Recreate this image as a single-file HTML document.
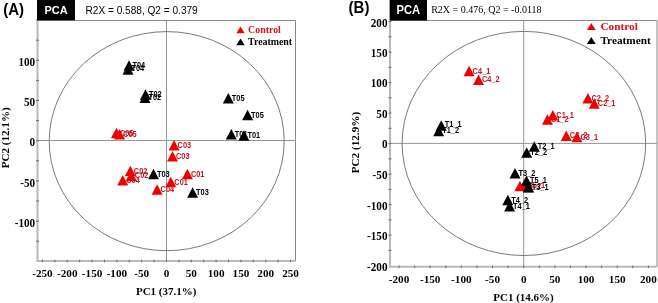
<!DOCTYPE html><html><head><meta charset="utf-8"><style>html,body{margin:0;padding:0;background:#fff;width:658px;height:303px;overflow:hidden}svg{display:block;will-change:transform;filter:blur(0.35px)}</style></head><body>
<svg width="658" height="303" viewBox="0 0 658 303">
<g opacity="0.999">
<path d="M37.5 20.5H295.5V261.0" fill="none" stroke="#8a8a8a" stroke-width="1"/>
<path d="M37.5 20.5V261.0H295.5" fill="none" stroke="#b9b9b9" stroke-width="2"/>
<line x1="37.5" y1="140.5" x2="295.5" y2="140.5" stroke="#959595" stroke-width="1"/>
<line x1="166.5" y1="20.5" x2="166.5" y2="261.0" stroke="#959595" stroke-width="1"/>
<ellipse cx="166.7" cy="141.15" rx="117.5" ry="109.55" fill="none" stroke="#6a6a6a" stroke-width="0.9"/>
<line x1="42.45" y1="259.7" x2="42.45" y2="262.3" stroke="#6a6a6a" stroke-width="1"/>
<text transform="translate(42.45 277.40)" text-anchor="middle" font-family='"Liberation Serif", serif' font-weight="bold" font-size="11.2">-250</text>
<line x1="54.86" y1="259.7" x2="54.86" y2="262.3" stroke="#6a6a6a" stroke-width="1"/>
<line x1="67.26" y1="259.7" x2="67.26" y2="262.3" stroke="#6a6a6a" stroke-width="1"/>
<text transform="translate(67.26 277.40)" text-anchor="middle" font-family='"Liberation Serif", serif' font-weight="bold" font-size="11.2">-200</text>
<line x1="79.67" y1="259.7" x2="79.67" y2="262.3" stroke="#6a6a6a" stroke-width="1"/>
<line x1="92.07" y1="259.7" x2="92.07" y2="262.3" stroke="#6a6a6a" stroke-width="1"/>
<text transform="translate(92.07 277.40)" text-anchor="middle" font-family='"Liberation Serif", serif' font-weight="bold" font-size="11.2">-150</text>
<line x1="104.47" y1="259.7" x2="104.47" y2="262.3" stroke="#6a6a6a" stroke-width="1"/>
<line x1="116.88" y1="259.7" x2="116.88" y2="262.3" stroke="#6a6a6a" stroke-width="1"/>
<text transform="translate(116.88 277.40)" text-anchor="middle" font-family='"Liberation Serif", serif' font-weight="bold" font-size="11.2">-100</text>
<line x1="129.28" y1="259.7" x2="129.28" y2="262.3" stroke="#6a6a6a" stroke-width="1"/>
<line x1="141.69" y1="259.7" x2="141.69" y2="262.3" stroke="#6a6a6a" stroke-width="1"/>
<text transform="translate(141.69 277.40)" text-anchor="middle" font-family='"Liberation Serif", serif' font-weight="bold" font-size="11.2">-50</text>
<line x1="154.09" y1="259.7" x2="154.09" y2="262.3" stroke="#6a6a6a" stroke-width="1"/>
<line x1="166.50" y1="259.7" x2="166.50" y2="262.3" stroke="#6a6a6a" stroke-width="1"/>
<text transform="translate(166.50 277.40)" text-anchor="middle" font-family='"Liberation Serif", serif' font-weight="bold" font-size="11.2">0</text>
<line x1="178.91" y1="259.7" x2="178.91" y2="262.3" stroke="#6a6a6a" stroke-width="1"/>
<line x1="191.31" y1="259.7" x2="191.31" y2="262.3" stroke="#6a6a6a" stroke-width="1"/>
<text transform="translate(191.31 277.40)" text-anchor="middle" font-family='"Liberation Serif", serif' font-weight="bold" font-size="11.2">50</text>
<line x1="203.72" y1="259.7" x2="203.72" y2="262.3" stroke="#6a6a6a" stroke-width="1"/>
<line x1="216.12" y1="259.7" x2="216.12" y2="262.3" stroke="#6a6a6a" stroke-width="1"/>
<text transform="translate(216.12 277.40)" text-anchor="middle" font-family='"Liberation Serif", serif' font-weight="bold" font-size="11.2">100</text>
<line x1="228.53" y1="259.7" x2="228.53" y2="262.3" stroke="#6a6a6a" stroke-width="1"/>
<line x1="240.93" y1="259.7" x2="240.93" y2="262.3" stroke="#6a6a6a" stroke-width="1"/>
<text transform="translate(240.93 277.40)" text-anchor="middle" font-family='"Liberation Serif", serif' font-weight="bold" font-size="11.2">150</text>
<line x1="253.33" y1="259.7" x2="253.33" y2="262.3" stroke="#6a6a6a" stroke-width="1"/>
<line x1="265.74" y1="259.7" x2="265.74" y2="262.3" stroke="#6a6a6a" stroke-width="1"/>
<text transform="translate(265.74 277.40)" text-anchor="middle" font-family='"Liberation Serif", serif' font-weight="bold" font-size="11.2">200</text>
<line x1="278.14" y1="259.7" x2="278.14" y2="262.3" stroke="#6a6a6a" stroke-width="1"/>
<line x1="290.55" y1="259.7" x2="290.55" y2="262.3" stroke="#6a6a6a" stroke-width="1"/>
<text transform="translate(290.55 277.40)" text-anchor="middle" font-family='"Liberation Serif", serif' font-weight="bold" font-size="11.2">250</text>
<line x1="36.0" y1="241.20" x2="39.0" y2="241.20" stroke="#6a6a6a" stroke-width="1"/>
<line x1="36.0" y1="221.10" x2="39.0" y2="221.10" stroke="#6a6a6a" stroke-width="1"/>
<text transform="translate(35.20 226.70) scale(1 1.07)" text-anchor="end" font-family='"Liberation Serif", serif' font-weight="bold" font-size="11.2">-100</text>
<line x1="36.0" y1="201.00" x2="39.0" y2="201.00" stroke="#6a6a6a" stroke-width="1"/>
<line x1="36.0" y1="180.90" x2="39.0" y2="180.90" stroke="#6a6a6a" stroke-width="1"/>
<text transform="translate(35.20 186.50) scale(1 1.07)" text-anchor="end" font-family='"Liberation Serif", serif' font-weight="bold" font-size="11.2">-50</text>
<line x1="36.0" y1="160.80" x2="39.0" y2="160.80" stroke="#6a6a6a" stroke-width="1"/>
<line x1="36.0" y1="140.70" x2="39.0" y2="140.70" stroke="#6a6a6a" stroke-width="1"/>
<text transform="translate(35.20 146.30) scale(1 1.07)" text-anchor="end" font-family='"Liberation Serif", serif' font-weight="bold" font-size="11.2">0</text>
<line x1="36.0" y1="120.60" x2="39.0" y2="120.60" stroke="#6a6a6a" stroke-width="1"/>
<line x1="36.0" y1="100.50" x2="39.0" y2="100.50" stroke="#6a6a6a" stroke-width="1"/>
<text transform="translate(35.20 106.10) scale(1 1.07)" text-anchor="end" font-family='"Liberation Serif", serif' font-weight="bold" font-size="11.2">50</text>
<line x1="36.0" y1="80.40" x2="39.0" y2="80.40" stroke="#6a6a6a" stroke-width="1"/>
<line x1="36.0" y1="60.30" x2="39.0" y2="60.30" stroke="#6a6a6a" stroke-width="1"/>
<text transform="translate(35.20 65.90) scale(1 1.07)" text-anchor="end" font-family='"Liberation Serif", serif' font-weight="bold" font-size="11.2">100</text>
<line x1="36.0" y1="40.20" x2="39.0" y2="40.20" stroke="#6a6a6a" stroke-width="1"/>
<line x1="36.0" y1="20.10" x2="39.0" y2="20.10" stroke="#6a6a6a" stroke-width="1"/>
<path d="M390.0 20.5H657.0V266.8" fill="none" stroke="#8a8a8a" stroke-width="1"/>
<path d="M390.0 20.5V266.8H657.0" fill="none" stroke="#b9b9b9" stroke-width="2"/>
<line x1="390.0" y1="143.4" x2="657.0" y2="143.4" stroke="#959595" stroke-width="1"/>
<line x1="523.7" y1="20.5" x2="523.7" y2="266.8" stroke="#959595" stroke-width="1"/>
<ellipse cx="523.9" cy="143.45" rx="121.8" ry="112.05" fill="none" stroke="#6a6a6a" stroke-width="0.9"/>
<line x1="399.04" y1="265.5" x2="399.04" y2="268.1" stroke="#6a6a6a" stroke-width="1"/>
<text transform="translate(399.04 283.00)" text-anchor="middle" font-family='"Liberation Serif", serif' font-weight="bold" font-size="11.2">-200</text>
<line x1="414.62" y1="265.5" x2="414.62" y2="268.1" stroke="#6a6a6a" stroke-width="1"/>
<line x1="430.21" y1="265.5" x2="430.21" y2="268.1" stroke="#6a6a6a" stroke-width="1"/>
<text transform="translate(430.21 283.00)" text-anchor="middle" font-family='"Liberation Serif", serif' font-weight="bold" font-size="11.2">-150</text>
<line x1="445.79" y1="265.5" x2="445.79" y2="268.1" stroke="#6a6a6a" stroke-width="1"/>
<line x1="461.37" y1="265.5" x2="461.37" y2="268.1" stroke="#6a6a6a" stroke-width="1"/>
<text transform="translate(461.37 283.00)" text-anchor="middle" font-family='"Liberation Serif", serif' font-weight="bold" font-size="11.2">-100</text>
<line x1="476.95" y1="265.5" x2="476.95" y2="268.1" stroke="#6a6a6a" stroke-width="1"/>
<line x1="492.54" y1="265.5" x2="492.54" y2="268.1" stroke="#6a6a6a" stroke-width="1"/>
<text transform="translate(492.54 283.00)" text-anchor="middle" font-family='"Liberation Serif", serif' font-weight="bold" font-size="11.2">-50</text>
<line x1="508.12" y1="265.5" x2="508.12" y2="268.1" stroke="#6a6a6a" stroke-width="1"/>
<line x1="523.70" y1="265.5" x2="523.70" y2="268.1" stroke="#6a6a6a" stroke-width="1"/>
<text transform="translate(523.70 283.00)" text-anchor="middle" font-family='"Liberation Serif", serif' font-weight="bold" font-size="11.2">0</text>
<line x1="539.28" y1="265.5" x2="539.28" y2="268.1" stroke="#6a6a6a" stroke-width="1"/>
<line x1="554.87" y1="265.5" x2="554.87" y2="268.1" stroke="#6a6a6a" stroke-width="1"/>
<text transform="translate(554.87 283.00)" text-anchor="middle" font-family='"Liberation Serif", serif' font-weight="bold" font-size="11.2">50</text>
<line x1="570.45" y1="265.5" x2="570.45" y2="268.1" stroke="#6a6a6a" stroke-width="1"/>
<line x1="586.03" y1="265.5" x2="586.03" y2="268.1" stroke="#6a6a6a" stroke-width="1"/>
<text transform="translate(586.03 283.00)" text-anchor="middle" font-family='"Liberation Serif", serif' font-weight="bold" font-size="11.2">100</text>
<line x1="601.61" y1="265.5" x2="601.61" y2="268.1" stroke="#6a6a6a" stroke-width="1"/>
<line x1="617.20" y1="265.5" x2="617.20" y2="268.1" stroke="#6a6a6a" stroke-width="1"/>
<text transform="translate(617.20 283.00)" text-anchor="middle" font-family='"Liberation Serif", serif' font-weight="bold" font-size="11.2">150</text>
<line x1="632.78" y1="265.5" x2="632.78" y2="268.1" stroke="#6a6a6a" stroke-width="1"/>
<line x1="648.36" y1="265.5" x2="648.36" y2="268.1" stroke="#6a6a6a" stroke-width="1"/>
<text transform="translate(648.36 283.00)" text-anchor="middle" font-family='"Liberation Serif", serif' font-weight="bold" font-size="11.2">200</text>
<text transform="translate(387.50 270.57) scale(1 1.07)" text-anchor="end" font-family='"Liberation Serif", serif' font-weight="bold" font-size="11.2">-200</text>
<line x1="388.5" y1="250.41" x2="391.5" y2="250.41" stroke="#6a6a6a" stroke-width="1"/>
<line x1="388.5" y1="235.15" x2="391.5" y2="235.15" stroke="#6a6a6a" stroke-width="1"/>
<text transform="translate(387.50 240.05) scale(1 1.07)" text-anchor="end" font-family='"Liberation Serif", serif' font-weight="bold" font-size="11.2">-150</text>
<line x1="388.5" y1="219.89" x2="391.5" y2="219.89" stroke="#6a6a6a" stroke-width="1"/>
<line x1="388.5" y1="204.63" x2="391.5" y2="204.63" stroke="#6a6a6a" stroke-width="1"/>
<text transform="translate(387.50 209.53) scale(1 1.07)" text-anchor="end" font-family='"Liberation Serif", serif' font-weight="bold" font-size="11.2">-100</text>
<line x1="388.5" y1="189.37" x2="391.5" y2="189.37" stroke="#6a6a6a" stroke-width="1"/>
<line x1="388.5" y1="174.11" x2="391.5" y2="174.11" stroke="#6a6a6a" stroke-width="1"/>
<text transform="translate(387.50 179.01) scale(1 1.07)" text-anchor="end" font-family='"Liberation Serif", serif' font-weight="bold" font-size="11.2">-50</text>
<line x1="388.5" y1="158.85" x2="391.5" y2="158.85" stroke="#6a6a6a" stroke-width="1"/>
<line x1="388.5" y1="143.59" x2="391.5" y2="143.59" stroke="#6a6a6a" stroke-width="1"/>
<text transform="translate(387.50 148.49) scale(1 1.07)" text-anchor="end" font-family='"Liberation Serif", serif' font-weight="bold" font-size="11.2">0</text>
<line x1="388.5" y1="128.33" x2="391.5" y2="128.33" stroke="#6a6a6a" stroke-width="1"/>
<line x1="388.5" y1="113.07" x2="391.5" y2="113.07" stroke="#6a6a6a" stroke-width="1"/>
<text transform="translate(387.50 117.97) scale(1 1.07)" text-anchor="end" font-family='"Liberation Serif", serif' font-weight="bold" font-size="11.2">50</text>
<line x1="388.5" y1="97.81" x2="391.5" y2="97.81" stroke="#6a6a6a" stroke-width="1"/>
<line x1="388.5" y1="82.55" x2="391.5" y2="82.55" stroke="#6a6a6a" stroke-width="1"/>
<text transform="translate(387.50 87.45) scale(1 1.07)" text-anchor="end" font-family='"Liberation Serif", serif' font-weight="bold" font-size="11.2">100</text>
<line x1="388.5" y1="67.29" x2="391.5" y2="67.29" stroke="#6a6a6a" stroke-width="1"/>
<line x1="388.5" y1="52.03" x2="391.5" y2="52.03" stroke="#6a6a6a" stroke-width="1"/>
<text transform="translate(387.50 56.93) scale(1 1.07)" text-anchor="end" font-family='"Liberation Serif", serif' font-weight="bold" font-size="11.2">150</text>
<line x1="388.5" y1="36.77" x2="391.5" y2="36.77" stroke="#6a6a6a" stroke-width="1"/>
<line x1="388.5" y1="21.51" x2="391.5" y2="21.51" stroke="#6a6a6a" stroke-width="1"/>
<text transform="translate(387.50 27.21) scale(1 1.07)" text-anchor="end" font-family='"Liberation Serif", serif' font-weight="bold" font-size="11.2">200</text>
<path d="M129.00 60.35L134.50 70.85L123.50 70.85Z" fill="#000"/>
<text transform="translate(132.50 67.50) scale(0.88 1)" fill="#000" font-family='"Liberation Sans", sans-serif' font-weight="bold" font-size="8.4">T04</text>
<path d="M128.00 64.25L133.50 74.75L122.50 74.75Z" fill="#000"/>
<text transform="translate(131.50 70.80) scale(0.88 1)" fill="#000" font-family='"Liberation Sans", sans-serif' font-weight="bold" font-size="8.4">T04</text>
<path d="M145.50 89.25L151.00 99.75L140.00 99.75Z" fill="#000"/>
<text transform="translate(149.00 97.10) scale(0.88 1)" fill="#000" font-family='"Liberation Sans", sans-serif' font-weight="bold" font-size="8.4">T02</text>
<path d="M145.00 92.55L150.50 103.05L139.50 103.05Z" fill="#000"/>
<text transform="translate(148.50 100.40) scale(0.88 1)" fill="#000" font-family='"Liberation Sans", sans-serif' font-weight="bold" font-size="8.4">T02</text>
<path d="M228.30 92.95L233.80 103.45L222.80 103.45Z" fill="#000"/>
<text transform="translate(231.80 100.80) scale(0.88 1)" fill="#000" font-family='"Liberation Sans", sans-serif' font-weight="bold" font-size="8.4">T05</text>
<path d="M247.60 109.65L253.10 120.15L242.10 120.15Z" fill="#000"/>
<text transform="translate(251.10 117.50) scale(0.88 1)" fill="#000" font-family='"Liberation Sans", sans-serif' font-weight="bold" font-size="8.4">T05</text>
<path d="M231.30 128.95L236.80 139.45L225.80 139.45Z" fill="#000"/>
<text transform="translate(234.80 136.80) scale(0.88 1)" fill="#000" font-family='"Liberation Sans", sans-serif' font-weight="bold" font-size="8.4">T01</text>
<path d="M243.90 130.25L249.40 140.75L238.40 140.75Z" fill="#000"/>
<text transform="translate(247.40 138.10) scale(0.88 1)" fill="#000" font-family='"Liberation Sans", sans-serif' font-weight="bold" font-size="8.4">T01</text>
<path d="M153.50 168.85L159.00 179.35L148.00 179.35Z" fill="#000"/>
<text transform="translate(157.00 176.70) scale(0.88 1)" fill="#000" font-family='"Liberation Sans", sans-serif' font-weight="bold" font-size="8.4">T03</text>
<path d="M192.60 187.15L198.10 197.65L187.10 197.65Z" fill="#000"/>
<text transform="translate(196.10 195.00) scale(0.88 1)" fill="#000" font-family='"Liberation Sans", sans-serif' font-weight="bold" font-size="8.4">T03</text>
<path d="M116.40 127.65L121.90 138.15L110.90 138.15Z" fill="#f00000"/>
<text transform="translate(119.90 135.50) scale(0.88 1)" fill="#c81420" font-family='"Liberation Sans", sans-serif' font-weight="bold" font-size="8.4">C05</text>
<path d="M119.60 128.95L125.10 139.45L114.10 139.45Z" fill="#f00000"/>
<text transform="translate(123.10 136.80) scale(0.88 1)" fill="#c81420" font-family='"Liberation Sans", sans-serif' font-weight="bold" font-size="8.4">C05</text>
<path d="M174.10 139.95L179.60 150.45L168.60 150.45Z" fill="#f00000"/>
<text transform="translate(177.60 147.80) scale(0.88 1)" fill="#c81420" font-family='"Liberation Sans", sans-serif' font-weight="bold" font-size="8.4">C03</text>
<path d="M172.50 151.05L178.00 161.55L167.00 161.55Z" fill="#f00000"/>
<text transform="translate(176.00 158.90) scale(0.88 1)" fill="#c81420" font-family='"Liberation Sans", sans-serif' font-weight="bold" font-size="8.4">C03</text>
<path d="M122.70 174.95L128.20 185.45L117.20 185.45Z" fill="#f00000"/>
<text transform="translate(126.20 182.80) scale(0.88 1)" fill="#c81420" font-family='"Liberation Sans", sans-serif' font-weight="bold" font-size="8.4">C04</text>
<path d="M130.30 165.75L135.80 176.25L124.80 176.25Z" fill="#f00000"/>
<text transform="translate(133.80 173.60) scale(0.88 1)" fill="#c81420" font-family='"Liberation Sans", sans-serif' font-weight="bold" font-size="8.4">C02</text>
<path d="M131.30 170.65L136.80 181.15L125.80 181.15Z" fill="#f00000"/>
<text transform="translate(134.80 178.10) scale(0.88 1)" fill="#c81420" font-family='"Liberation Sans", sans-serif' font-weight="bold" font-size="8.4">C02</text>
<path d="M187.40 168.75L192.90 179.25L181.90 179.25Z" fill="#f00000"/>
<text transform="translate(190.90 176.60) scale(0.88 1)" fill="#c81420" font-family='"Liberation Sans", sans-serif' font-weight="bold" font-size="8.4">C01</text>
<path d="M170.80 176.85L176.30 187.35L165.30 187.35Z" fill="#f00000"/>
<text transform="translate(174.30 184.70) scale(0.88 1)" fill="#c81420" font-family='"Liberation Sans", sans-serif' font-weight="bold" font-size="8.4">C01</text>
<path d="M157.10 184.25L162.60 194.75L151.60 194.75Z" fill="#f00000"/>
<text transform="translate(160.60 192.10) scale(0.88 1)" fill="#c81420" font-family='"Liberation Sans", sans-serif' font-weight="bold" font-size="8.4">C04</text>
<path d="M469.10 65.75L474.60 76.25L463.60 76.25Z" fill="#f00000"/>
<text transform="translate(472.60 73.60) scale(0.88 1)" fill="#c81420" font-family='"Liberation Sans", sans-serif' font-weight="bold" font-size="8.4">C4_1</text>
<path d="M478.50 74.55L484.00 85.05L473.00 85.05Z" fill="#f00000"/>
<text transform="translate(482.00 82.40) scale(0.88 1)" fill="#c81420" font-family='"Liberation Sans", sans-serif' font-weight="bold" font-size="8.4">C4_2</text>
<path d="M587.90 93.05L593.40 103.55L582.40 103.55Z" fill="#f00000"/>
<text transform="translate(591.40 100.90) scale(0.88 1)" fill="#c81420" font-family='"Liberation Sans", sans-serif' font-weight="bold" font-size="8.4">C2_2</text>
<path d="M594.30 98.15L599.80 108.65L588.80 108.65Z" fill="#f00000"/>
<text transform="translate(597.80 106.00) scale(0.88 1)" fill="#c81420" font-family='"Liberation Sans", sans-serif' font-weight="bold" font-size="8.4">C2_1</text>
<path d="M547.40 114.35L552.90 124.85L541.90 124.85Z" fill="#f00000"/>
<text transform="translate(550.90 122.20) scale(0.88 1)" fill="#c81420" font-family='"Liberation Sans", sans-serif' font-weight="bold" font-size="8.4">C1_2</text>
<path d="M552.80 109.95L558.30 120.45L547.30 120.45Z" fill="#f00000"/>
<text transform="translate(556.30 117.80) scale(0.88 1)" fill="#c81420" font-family='"Liberation Sans", sans-serif' font-weight="bold" font-size="8.4">C1_1</text>
<path d="M566.30 130.45L571.80 140.95L560.80 140.95Z" fill="#f00000"/>
<text transform="translate(569.80 138.30) scale(0.88 1)" fill="#c81420" font-family='"Liberation Sans", sans-serif' font-weight="bold" font-size="8.4">C3_2</text>
<path d="M576.90 131.75L582.40 142.25L571.40 142.25Z" fill="#f00000"/>
<text transform="translate(580.40 139.60) scale(0.88 1)" fill="#c81420" font-family='"Liberation Sans", sans-serif' font-weight="bold" font-size="8.4">C3_1</text>
<path d="M441.20 120.15L446.70 130.65L435.70 130.65Z" fill="#000"/>
<text transform="translate(444.70 126.50) scale(0.88 1)" fill="#000" font-family='"Liberation Sans", sans-serif' font-weight="bold" font-size="8.4">T1_1</text>
<path d="M438.70 125.85L444.20 136.35L433.20 136.35Z" fill="#000"/>
<text transform="translate(442.20 133.00) scale(0.88 1)" fill="#000" font-family='"Liberation Sans", sans-serif' font-weight="bold" font-size="8.4">T1_2</text>
<path d="M526.70 147.35L532.20 157.85L521.20 157.85Z" fill="#000"/>
<text transform="translate(530.20 155.20) scale(0.88 1)" fill="#000" font-family='"Liberation Sans", sans-serif' font-weight="bold" font-size="8.4">T2_2</text>
<path d="M534.30 141.25L539.80 151.75L528.80 151.75Z" fill="#000"/>
<text transform="translate(537.80 149.10) scale(0.88 1)" fill="#000" font-family='"Liberation Sans", sans-serif' font-weight="bold" font-size="8.4">T2_1</text>
<path d="M515.00 167.95L520.50 178.45L509.50 178.45Z" fill="#000"/>
<text transform="translate(518.50 175.80) scale(0.88 1)" fill="#000" font-family='"Liberation Sans", sans-serif' font-weight="bold" font-size="8.4">T3_2</text>
<path d="M519.90 180.75L525.40 191.25L514.40 191.25Z" fill="#f00000"/>
<text transform="translate(523.40 188.60) scale(0.88 1)" fill="#c81420" font-family='"Liberation Sans", sans-serif' font-weight="bold" font-size="8.4">C5_2</text>
<path d="M524.00 180.55L529.50 191.05L518.50 191.05Z" fill="#f00000"/>
<text transform="translate(527.50 188.40) scale(0.88 1)" fill="#c81420" font-family='"Liberation Sans", sans-serif' font-weight="bold" font-size="8.4">C5_1</text>
<path d="M526.50 175.45L532.00 185.95L521.00 185.95Z" fill="#000"/>
<text transform="translate(530.00 183.30) scale(0.88 1)" fill="#000" font-family='"Liberation Sans", sans-serif' font-weight="bold" font-size="8.4">T5_1</text>
<path d="M528.60 181.95L534.10 192.45L523.10 192.45Z" fill="#000"/>
<path d="M528.20 181.75L533.70 192.25L522.70 192.25Z" fill="#000"/>
<text transform="translate(531.70 189.60) scale(0.88 1)" fill="#000" font-family='"Liberation Sans", sans-serif' font-weight="bold" font-size="8.4">T3_1</text>
<path d="M507.80 194.65L513.30 205.15L502.30 205.15Z" fill="#000"/>
<text transform="translate(511.30 202.50) scale(0.88 1)" fill="#000" font-family='"Liberation Sans", sans-serif' font-weight="bold" font-size="8.4">T4_2</text>
<path d="M509.60 200.95L515.10 211.45L504.10 211.45Z" fill="#000"/>
<text transform="translate(513.10 208.80) scale(0.88 1)" fill="#000" font-family='"Liberation Sans", sans-serif' font-weight="bold" font-size="8.4">T4_1</text>
<text transform="translate(3.2 15.1) scale(1 1.07)" font-family='"Liberation Sans", sans-serif' font-weight="bold" font-size="15">(A)</text>
<text transform="translate(348.6 12.9) scale(1 1.07)" font-family='"Liberation Sans", sans-serif' font-weight="bold" font-size="15">(B)</text>
<rect x="37" y="0" width="38" height="20.3" fill="#000"/>
<rect x="389.6" y="0" width="37.4" height="20.5" fill="#000"/>
<text transform="translate(56 14.3) scale(1 1.06)" text-anchor="middle" fill="#fff" font-family='"Liberation Sans", sans-serif' font-weight="bold" font-size="11">PCA</text>
<text transform="translate(408.3 14.3) scale(1 1.06)" text-anchor="middle" fill="#fff" font-family='"Liberation Sans", sans-serif' font-weight="bold" font-size="11.2">PCA</text>
<text x="85.5" y="13.9" font-family='"Liberation Sans", sans-serif' font-size="10.1">R2X = 0.588, Q2 = 0.379</text>
<text x="431.2" y="13.1" font-family='"Liberation Serif", serif' font-size="10.0">R2X = 0.476, Q2 = -0.0118</text>
<path d="M240.50 26.40L244.70 33.20L236.30 33.20Z" fill="#f00000"/>
<text x="248.1" y="33.2" fill="#e4101a" font-family='"Liberation Serif", serif' font-weight="bold" font-size="9.9">Control</text>
<path d="M240.50 38.40L244.70 45.20L236.30 45.20Z" fill="#000"/>
<text x="248.1" y="45.2" fill="#000" font-family='"Liberation Serif", serif' font-weight="bold" font-size="9.9">Treatment</text>
<path d="M591.30 23.10L595.70 30.10L586.90 30.10Z" fill="#f00000"/>
<text x="600.4" y="30.1" fill="#e4101a" font-family='"Liberation Serif", serif' font-weight="bold" font-size="11.3">Control</text>
<path d="M591.30 37.00L595.70 44.00L586.90 44.00Z" fill="#000"/>
<text x="600.4" y="44.0" fill="#000" font-family='"Liberation Serif", serif' font-weight="bold" font-size="11.3">Treatment</text>
<text x="166.2" y="295.2" text-anchor="middle" font-family='"Liberation Serif", serif' font-weight="bold" font-size="11">PC1 (37.1%)</text>
<text x="523.5" y="300.9" text-anchor="middle" font-family='"Liberation Serif", serif' font-weight="bold" font-size="11">PC1 (14.6%)</text>
<text transform="translate(8.9 137.8) rotate(-90)" text-anchor="middle" font-family='"Liberation Serif", serif' font-weight="bold" font-size="11.1">PC2 (12.1%)</text>
<text transform="translate(359.4 142.6) rotate(-90)" text-anchor="middle" font-family='"Liberation Serif", serif' font-weight="bold" font-size="11.2">PC2 (12.9%)</text>
</g></svg></body></html>
